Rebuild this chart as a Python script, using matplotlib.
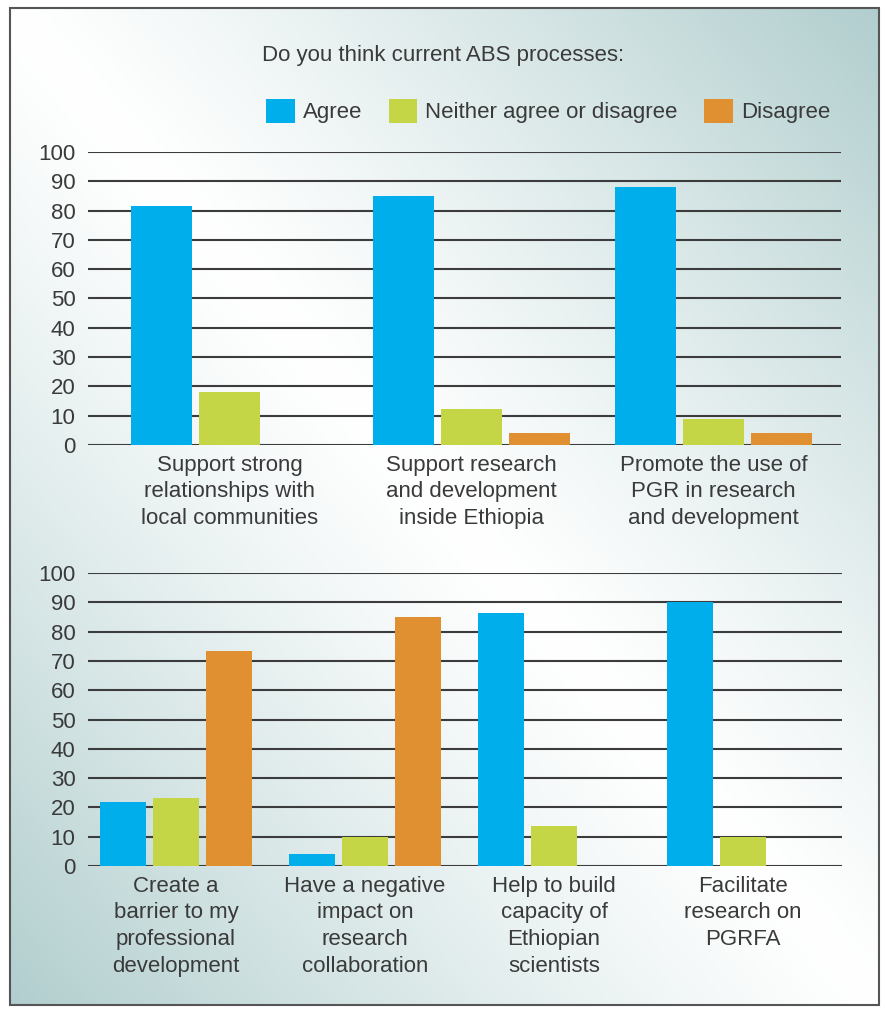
import numpy as np
import matplotlib
matplotlib.use("Agg")
import matplotlib.pyplot as plt
from matplotlib.patches import Rectangle, Patch

plt.rcParams['font.family'] = ['Liberation Sans', 'DejaVu Sans']

# ---- data ----
title = "Do you think current ABS processes:"
series_names = ["Agree", "Neither agree or disagree", "Disagree"]
series_colors = ["#00aeeb", "#c4d646", "#e09030"]

top_categories = ["Support strong\nrelationships with\nlocal communities",
                  "Support research\nand development\ninside Ethiopia",
                  "Promote the use of\nPGR in research\nand development"]
top_agree = [81.5, 85, 88]
top_neither = [18, 12.3, 9]
top_disagree = [0, 4, 4]

bottom_categories = ["Create a\nbarrier to my\nprofessional\ndevelopment",
                     "Have a negative\nimpact on\nresearch\ncollaboration",
                     "Help to build\ncapacity of\nEthiopian\nscientists",
                     "Facilitate\nresearch on\nPGRFA"]
bottom_agree = [22, 4, 86.5, 90]
bottom_neither = [23.3, 10, 13.7, 10]
bottom_disagree = [73.5, 85, 0, 0]

yticks = list(range(0, 101, 10))

W, H = 885, 1010
fig = plt.figure(figsize=(W / 100, H / 100), dpi=100)

# background gradient
bg = fig.add_axes([0, 0, 1, 1], zorder=-10)
xx, yy = np.meshgrid(np.linspace(0, 1, 300), np.linspace(0, 1, 300))
d = np.clip(np.abs(xx - yy), 0, 1) ** 1.2
white = np.array([1.0, 1.0, 1.0])
teal = np.array([176, 205, 205]) / 255
img = white[None, None, :] * (1 - d[..., None]) + teal[None, None, :] * d[..., None]
bg.imshow(img, extent=[0, 1, 0, 1], aspect='auto', origin='upper')
bg.set_xlim(0, 1); bg.set_ylim(0, 1)
bg.axis('off')
# white margin outside frame
fx0, fx1 = 10 / W, 879 / W
fy0, fy1 = 1 - 1005 / H, 1 - 8 / H
for r in [(0, 0, fx0, 1), (fx1, 0, 1 - fx1, 1), (0, fy1, 1, 1 - fy1), (0, 0, 1, fy0)]:
    bg.add_patch(Rectangle((r[0], r[1]), r[2], r[3], color='white', lw=0))
bg.add_patch(Rectangle((fx0, fy0), fx1 - fx0, fy1 - fy0, fill=False,
                       edgecolor='#555555', lw=1.5))

text_color = '#3a3a3a'
fs = 16


def draw(ax, cats, series, width, step, xlim):
    x = np.arange(len(cats))
    for i, (vals, col) in enumerate(zip(series, series_colors)):
        ax.bar(x + (i - 1) * step, vals, width, color=col, zorder=3)
    ax.set_xlim(*xlim)
    ax.set_ylim(0, 100)
    ax.set_yticks(yticks)
    ax.set_xticks(x)
    ax.set_xticklabels(cats, fontsize=fs, color=text_color, linespacing=1.36)
    ax.tick_params(axis='y', length=0, pad=9, labelsize=fs, labelcolor=text_color)
    ax.tick_params(axis='x', length=0, pad=7)
    ax.yaxis.grid(True, color='#3c3c3c', lw=1.5, zorder=1)
    ax.set_axisbelow(True)
    for s in ax.spines.values():
        s.set_visible(False)
    ax.set_facecolor('none')


ax1 = fig.add_axes([88 / W, 1 - 445 / H, (841 - 88) / W, 293 / H])
draw(ax1, top_categories, [top_agree, top_neither, top_disagree], 0.252, 0.281, (-0.585, 2.527))

ax2 = fig.add_axes([88 / W, 1 - 866 / H, (842 - 88) / W, 293 / H])
draw(ax2, bottom_categories, [bottom_agree, bottom_neither, bottom_disagree], 0.243, 0.280, (-0.466, 3.524))

fig.text(443 / W, 1 - 55 / H, title, ha='center', va='center', fontsize=fs, color=text_color)

handles = [Patch(facecolor=c, edgecolor='none', label=n) for n, c in zip(series_names, series_colors)]
fig.legend(handles=handles, loc='center', bbox_to_anchor=(548 / W, 1 - 111 / H), ncol=3,
           frameon=False, fontsize=fs, handlelength=1.3, handleheight=1.3,
           handletextpad=0.35, columnspacing=1.2, labelcolor=text_color)

fig.savefig("out.png", dpi=100)
